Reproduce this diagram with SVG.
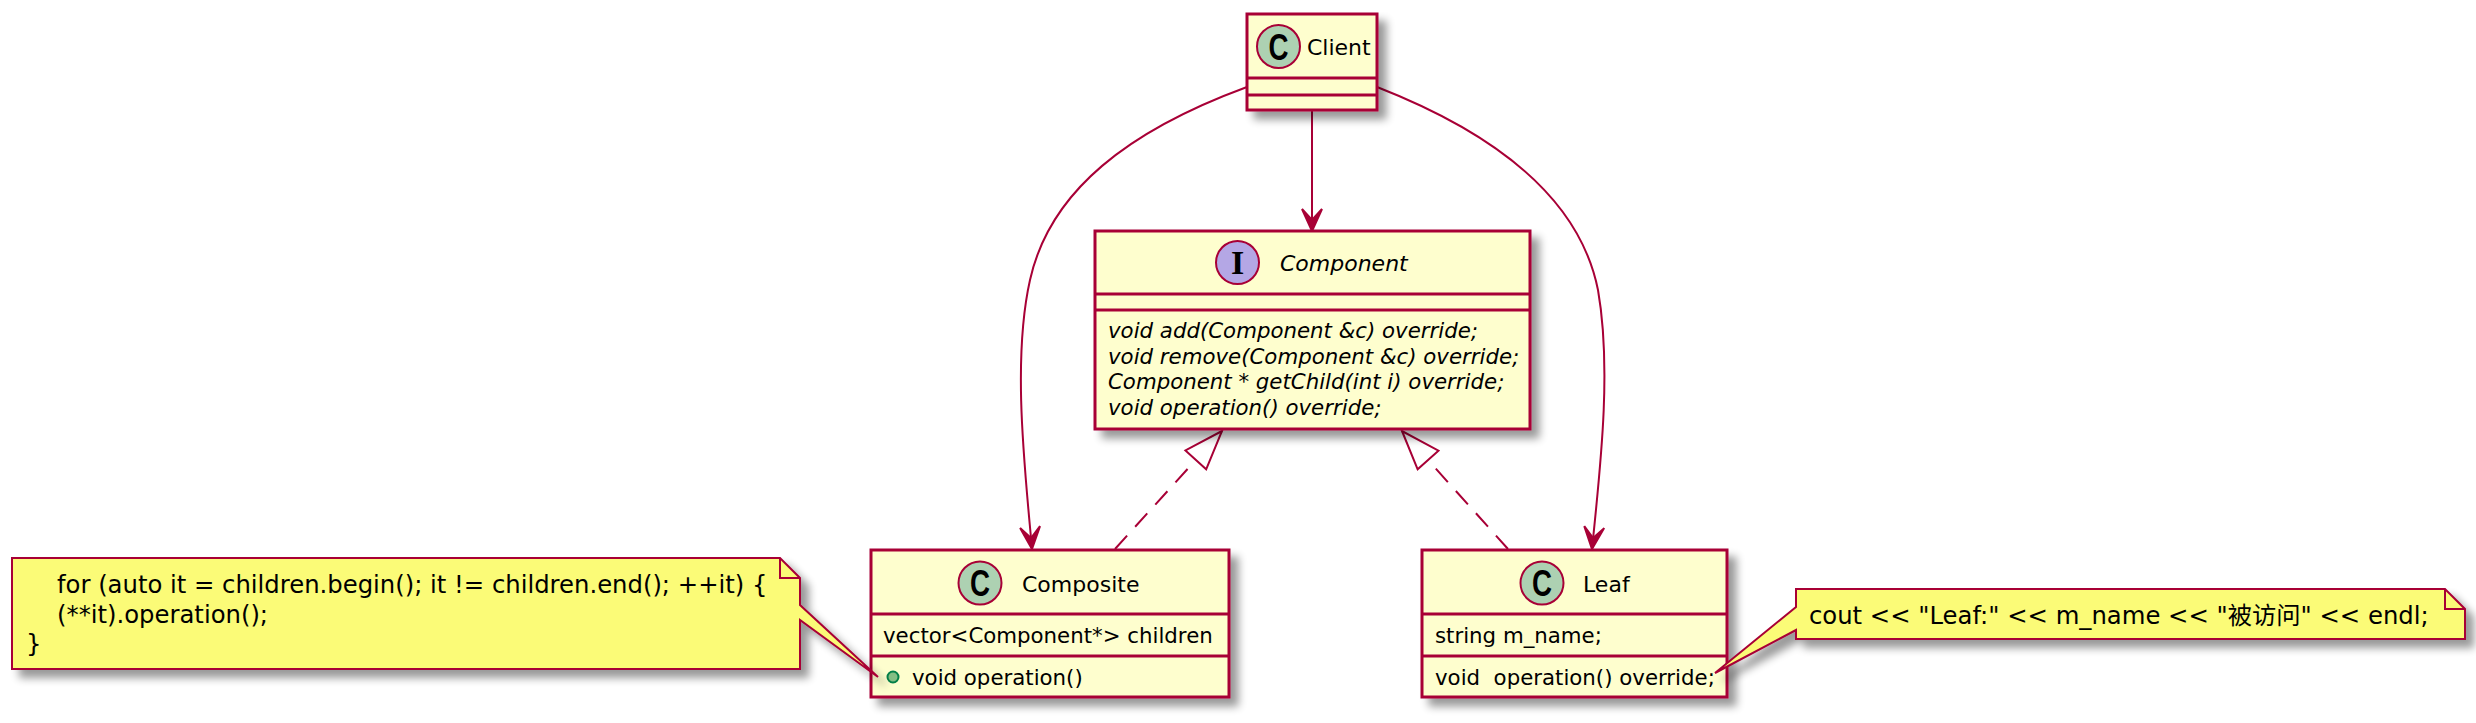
<svg xmlns="http://www.w3.org/2000/svg" width="2476" height="723" viewBox="0 0 2476 723">
<style>
text{font-family:"DejaVu Sans","Noto Sans CJK SC",sans-serif;fill:#000000;}
.box{fill:#FEFECE;stroke:#A80036;stroke-width:3;filter:url(#shadow);}
.div{stroke:#A80036;stroke-width:3;}
.cc{fill:#ADD1B2;stroke:#A80036;stroke-width:2;}
.ci{fill:#B4A7E5;stroke:#A80036;stroke-width:2;}
.glyphC{font-family:"Liberation Sans",sans-serif;font-weight:bold;font-size:36px;}
.glyphI{font-family:"Liberation Serif",serif;font-weight:bold;font-size:34px;}
.name{font-size:22px;}
.iname{font-size:22px;font-style:italic;}
.mem{font-size:21.3px;}
.imem{font-size:21.3px;font-style:italic;}
.note{fill:#FBFB77;stroke:#A80036;stroke-width:2;filter:url(#shadow);}
.fold{fill:none;stroke:#A80036;stroke-width:2;}
.ntext{font-size:24.3px;}
.link{fill:none;stroke:#A80036;stroke-width:2;}
.dash{stroke-dasharray:18,12;}
</style>
<defs>
<filter id="shadow" x="-10%" y="-10%" width="130%" height="150%">
<feGaussianBlur in="SourceAlpha" stdDeviation="4" result="b"/>
<feOffset in="b" dx="8" dy="8" result="o"/>
<feComponentTransfer in="o" result="s"><feFuncA type="linear" slope="0.4"/></feComponentTransfer>
<feMerge><feMergeNode in="s"/><feMergeNode in="SourceGraphic"/></feMerge>
</filter>
<marker id="arrow" markerUnits="userSpaceOnUse" markerWidth="30" markerHeight="30" viewBox="-26 -13 30 26" refX="0" refY="0" orient="auto" overflow="visible">
<path d="M0,0 L-22,-10 L-11,0 L-22,10 Z" fill="#A80036" stroke="#A80036" stroke-width="2" stroke-linejoin="miter"/>
</marker>
<marker id="tri" markerUnits="userSpaceOnUse" markerWidth="44" markerHeight="34" viewBox="-42 -17 44 34" refX="0" refY="0" orient="auto" overflow="visible">
<path d="M0,0 L-39,-14 L-39,14 Z" fill="#FFFFFF" stroke="#A80036" stroke-width="2"/>
</marker>
</defs>
<rect x="0" y="0" width="2476" height="723" fill="#FFFFFF"/>

<g id="connectors">
<path class="link" d="M1312,110 L1312,231" marker-end="url(#arrow)"/>
<path class="link" d="M1247,87 C1130,130 1050,190 1030,280 C1012,360 1025,470 1032,549" marker-end="url(#arrow)"/>
<path class="link" d="M1377,87 C1500,135 1580,200 1598,290 C1612,370 1600,470 1592,549" marker-end="url(#arrow)"/>
<path class="link dash" d="M1115,549 L1222,431" marker-end="url(#tri)"/>
<path class="link dash" d="M1508,549 L1402,431" marker-end="url(#tri)"/>
</g>

<g id="client">
<rect class="box" x="1247" y="14" width="130" height="96"/>
<line class="div" x1="1247" y1="78" x2="1377" y2="78"/>
<line class="div" x1="1247" y1="95" x2="1377" y2="95"/>
<circle class="cc" cx="1278.5" cy="46.5" r="21.5"/>
<text class="glyphC" x="1268.5" y="59.5" textLength="20" lengthAdjust="spacingAndGlyphs">C</text>
<text class="name" x="1307" y="55">Client</text>
</g>

<g id="component">
<rect class="box" x="1095" y="231" width="435" height="198"/>
<line class="div" x1="1095" y1="294" x2="1530" y2="294"/>
<line class="div" x1="1095" y1="310" x2="1530" y2="310"/>
<circle class="ci" cx="1237.5" cy="262.5" r="21.5"/>
<text class="glyphI" x="1237.5" y="274" text-anchor="middle">I</text>
<text class="iname" x="1280" y="271">Component</text>
<text class="imem" x="1108" y="338">void add(Component &amp;c) override;</text>
<text class="imem" x="1108" y="363.5">void remove(Component &amp;c) override;</text>
<text class="imem" x="1108" y="389">Component * getChild(int i) override;</text>
<text class="imem" x="1108" y="414.5">void operation() override;</text>
</g>

<g id="composite">
<rect class="box" x="871" y="550" width="358" height="147"/>
<line class="div" x1="871" y1="614" x2="1229" y2="614"/>
<line class="div" x1="871" y1="656" x2="1229" y2="656"/>
<circle class="cc" cx="980" cy="583" r="21.5"/>
<text class="glyphC" x="970" y="596" textLength="20" lengthAdjust="spacingAndGlyphs">C</text>
<text class="name" x="1022" y="592">Composite</text>
<text class="mem" x="883" y="643">vector&lt;Component*&gt; children</text>
<circle cx="893" cy="677" r="5.5" fill="#84BE84" stroke="#038048" stroke-width="2"/>
<text class="mem" x="912" y="685">void operation()</text>
</g>

<g id="leaf">
<rect class="box" x="1422" y="550" width="305" height="147"/>
<line class="div" x1="1422" y1="614" x2="1727" y2="614"/>
<line class="div" x1="1422" y1="656" x2="1727" y2="656"/>
<circle class="cc" cx="1542" cy="583" r="21.5"/>
<text class="glyphC" x="1532" y="596" textLength="20" lengthAdjust="spacingAndGlyphs">C</text>
<text class="name" x="1583" y="592">Leaf</text>
<text class="mem" x="1435" y="643">string m_name;</text>
<text class="mem" x="1435" y="685" xml:space="preserve">void  operation() override;</text>
</g>

<g id="note-composite">
<path class="note" d="M12,558 L780,558 L800,578 L800,605 L878,677 L800,620 L800,669 L12,669 Z"/>
<path class="fold" d="M780,558 L780,578 L800,578"/>
<text class="ntext" x="57" y="593">for (auto it = children.begin(); it != children.end(); ++it) {</text>
<text class="ntext" x="57" y="623">(**it).operation();</text>
<text class="ntext" x="26" y="652">}</text>
</g>

<g id="note-leaf">
<path class="note" d="M1796,589 L2445,589 L2465,609 L2465,639 L1796,639 L1796,630 L1715,673 L1796,607 Z"/>
<path class="fold" d="M2445,589 L2445,609 L2465,609"/>
<text class="ntext" x="1809" y="624">cout &lt;&lt; "Leaf:" &lt;&lt; m_name &lt;&lt; "被访问" &lt;&lt; endl;</text>
</g>
</svg>
